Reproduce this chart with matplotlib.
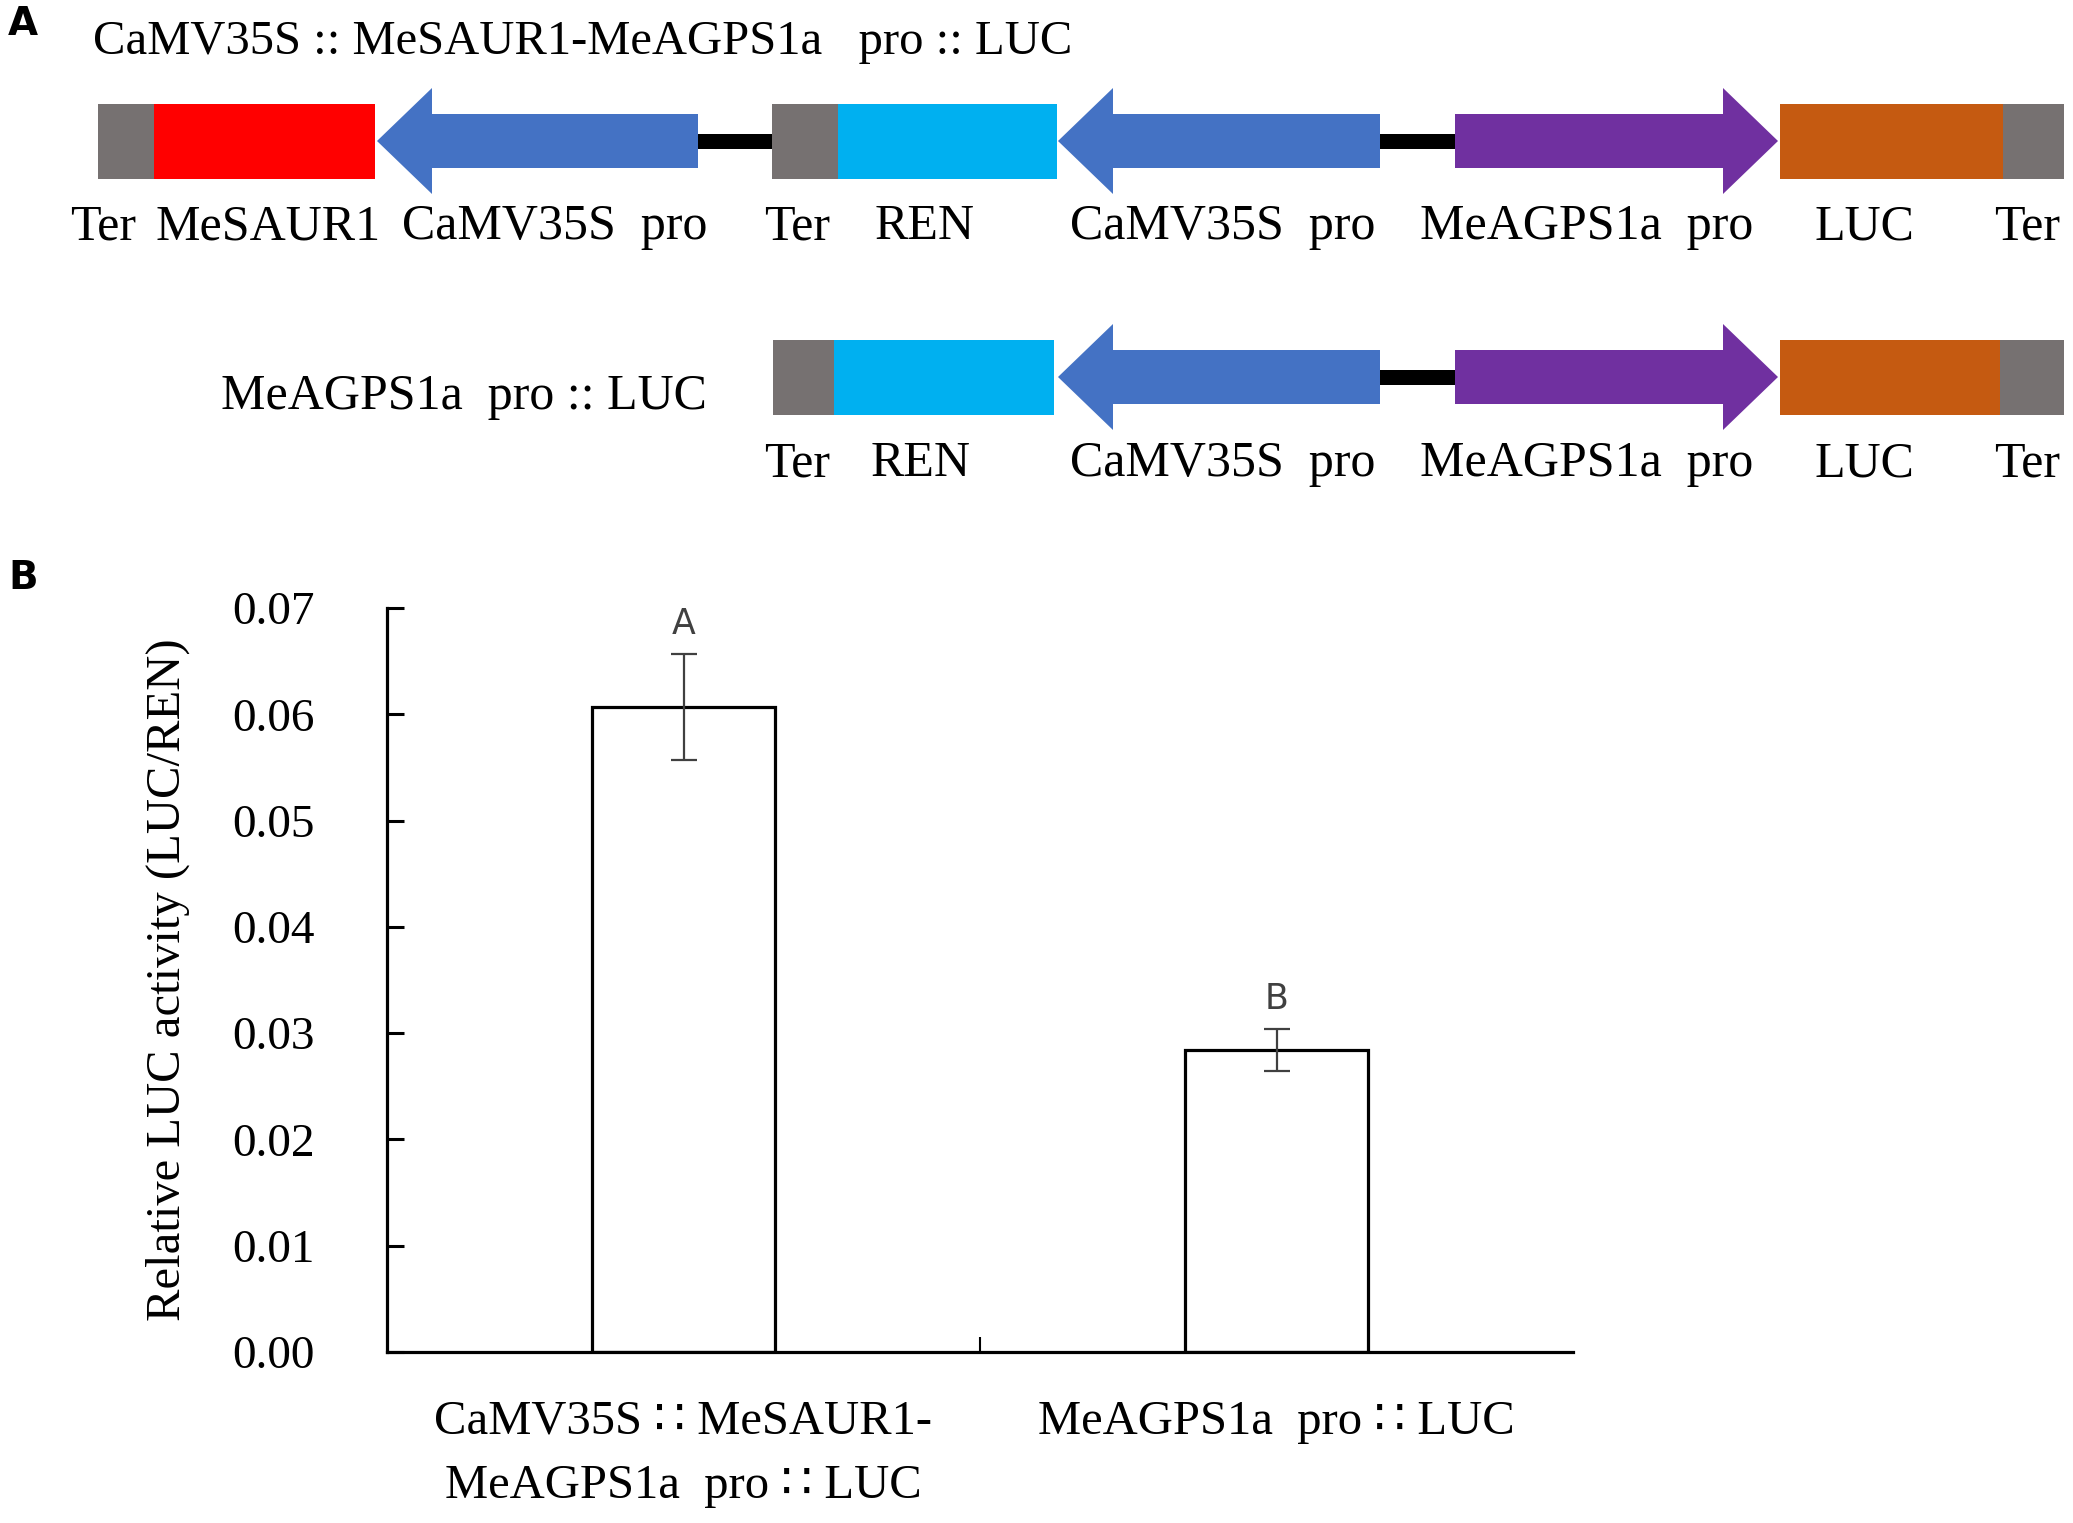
import numpy as np
from matplotlib import pyplot as plt
from matplotlib.patches import Polygon, Rectangle

plt.rcParams['font.family'] = ['Liberation Serif', 'DejaVu Serif', 'DejaVu Sans']

# ---- panel B data ----
groups = ['CaMV35S \u2237 MeSAUR1-\nMeAGPS1a  pro \u2237 LUC', 'MeAGPS1a  pro \u2237 LUC']
luc_ratio = [0.0607, 0.0284]
luc_err = [0.0050, 0.0020]
sig_letters = ['A', 'B']
yticks = [0.00, 0.01, 0.02, 0.03, 0.04, 0.05, 0.06, 0.07]

# ---- panel A construct parts (name, kind, colour, x-start, x-end in px) ----
row1 = [('Ter', 'box', '#767171', 98, 154),
        ('MeSAUR1', 'box', '#FF0000', 154, 375),
        ('CaMV35S  pro', 'left', '#4472C4', 377, 698),
        ('', 'line', 'black', 698, 772),
        ('Ter', 'box', '#767171', 772, 838),
        ('REN', 'box', '#00B0F0', 838, 1057),
        ('CaMV35S  pro', 'left', '#4472C4', 1058, 1380),
        ('', 'line', 'black', 1380, 1455),
        ('MeAGPS1a  pro', 'right', '#7030A0', 1455, 1778),
        ('LUC', 'box', '#C55A11', 1780, 2003),
        ('Ter', 'box', '#767171', 2003, 2064)]
row2 = [('Ter', 'box', '#767171', 773, 834),
        ('REN', 'box', '#00B0F0', 834, 1054),
        ('CaMV35S  pro', 'left', '#4472C4', 1058, 1380),
        ('', 'line', 'black', 1380, 1455),
        ('MeAGPS1a  pro', 'right', '#7030A0', 1455, 1778),
        ('LUC', 'box', '#C55A11', 1780, 2000),
        ('Ter', 'box', '#767171', 2000, 2064)]
row1_labels_x = [103, 268, 555, None, 797, 925, 1223, None, 1587, 1864, 2027]
row2_labels_x = [797, 921, 1223, None, 1587, 1864, 2027]

W, H = 2073, 1523
fig = plt.figure(figsize=(W / 100, H / 100), dpi=100)

# diagram axes in pixel space
axd = fig.add_axes([0, 0, 1, 1])
axd.set_xlim(0, W)
axd.set_ylim(H, 0)
axd.axis('off')


def draw_row(parts, labels_x, cy, label_y):
    box_h = 37.5
    shaft_h = 27
    head_h = 53
    head_len = 55
    for (name, kind, col, x0, x1), lx in zip(parts, labels_x):
        if kind == 'box':
            axd.add_patch(Rectangle((x0, cy - box_h), x1 - x0, 2 * box_h, color=col, lw=0))
        elif kind == 'line':
            axd.add_patch(Rectangle((x0, cy - 7.5), x1 - x0, 15, color=col, lw=0))
        elif kind == 'left':
            pts = [(x0, cy), (x0 + head_len, cy - head_h), (x0 + head_len, cy - shaft_h),
                   (x1, cy - shaft_h), (x1, cy + shaft_h), (x0 + head_len, cy + shaft_h),
                   (x0 + head_len, cy + head_h)]
            axd.add_patch(Polygon(pts, closed=True, color=col, lw=0))
        elif kind == 'right':
            pts = [(x1, cy), (x1 - head_len, cy - head_h), (x1 - head_len, cy - shaft_h),
                   (x0, cy - shaft_h), (x0, cy + shaft_h), (x1 - head_len, cy + shaft_h),
                   (x1 - head_len, cy + head_h)]
            axd.add_patch(Polygon(pts, closed=True, color=col, lw=0))
        if name and lx is not None:
            axd.text(lx, label_y, name, ha='center', va='center', fontsize=36, color='black')


draw_row(row1, row1_labels_x, 141, 227)
draw_row(row2, row2_labels_x, 377, 464)

axd.text(93, 42, 'CaMV35S :: MeSAUR1-MeAGPS1a   pro :: LUC', ha='left', va='center', fontsize=35)
axd.text(707, 397, 'MeAGPS1a  pro :: LUC', ha='right', va='center', fontsize=36)
axd.text(8, 24, 'A', ha='left', va='center', fontsize=28, fontweight='bold', family='DejaVu Sans')
axd.text(8, 578, 'B', ha='left', va='center', fontsize=28, fontweight='bold', family='DejaVu Sans')

# ---- panel B bar chart ----
ax = fig.add_axes([387 / W, 1 - 1352 / H, (1573 - 387) / W, (1352 - 608) / H])
x = np.arange(len(groups))
ax.bar(x, luc_ratio, width=0.31, color='white', edgecolor='black', linewidth=2.3, zorder=2)
ax.errorbar(x, luc_ratio, yerr=luc_err, fmt='none', ecolor='#404040', elinewidth=1.6,
            capsize=9.5, capthick=1.6, zorder=3)
for xi, v, e, s in zip(x, luc_ratio, luc_err, sig_letters):
    ax.text(xi, v + e + 0.0028, s, ha='center', va='center', fontsize=25,
            color='#404040', family='DejaVu Sans')

ax.set_xlim(-0.5, 1.5)
ax.set_ylim(0, 0.07)
ax.set_yticks(yticks)
ax.set_yticklabels(['%.2f' % t for t in yticks], fontsize=34)
ax.tick_params(axis='y', direction='in', length=12, width=2.2, pad=52)
ax.set_xticks([0.5])
ax.set_xticklabels([''])
ax.tick_params(axis='x', direction='in', length=11, width=1.5)
for xi, g in zip(x, groups):
    ax.text(xi, -0.0045, g, ha='center', va='top', fontsize=35, linespacing=1.6,
            transform=ax.transData)
ax.spines['top'].set_visible(False)
ax.spines['right'].set_visible(False)
ax.spines['left'].set_linewidth(2.3)
ax.spines['bottom'].set_linewidth(2.3)
ax.set_ylabel('Relative LUC activity (LUC/REN)', fontsize=35, labelpad=30)

fig.savefig('out.png', dpi=100)
